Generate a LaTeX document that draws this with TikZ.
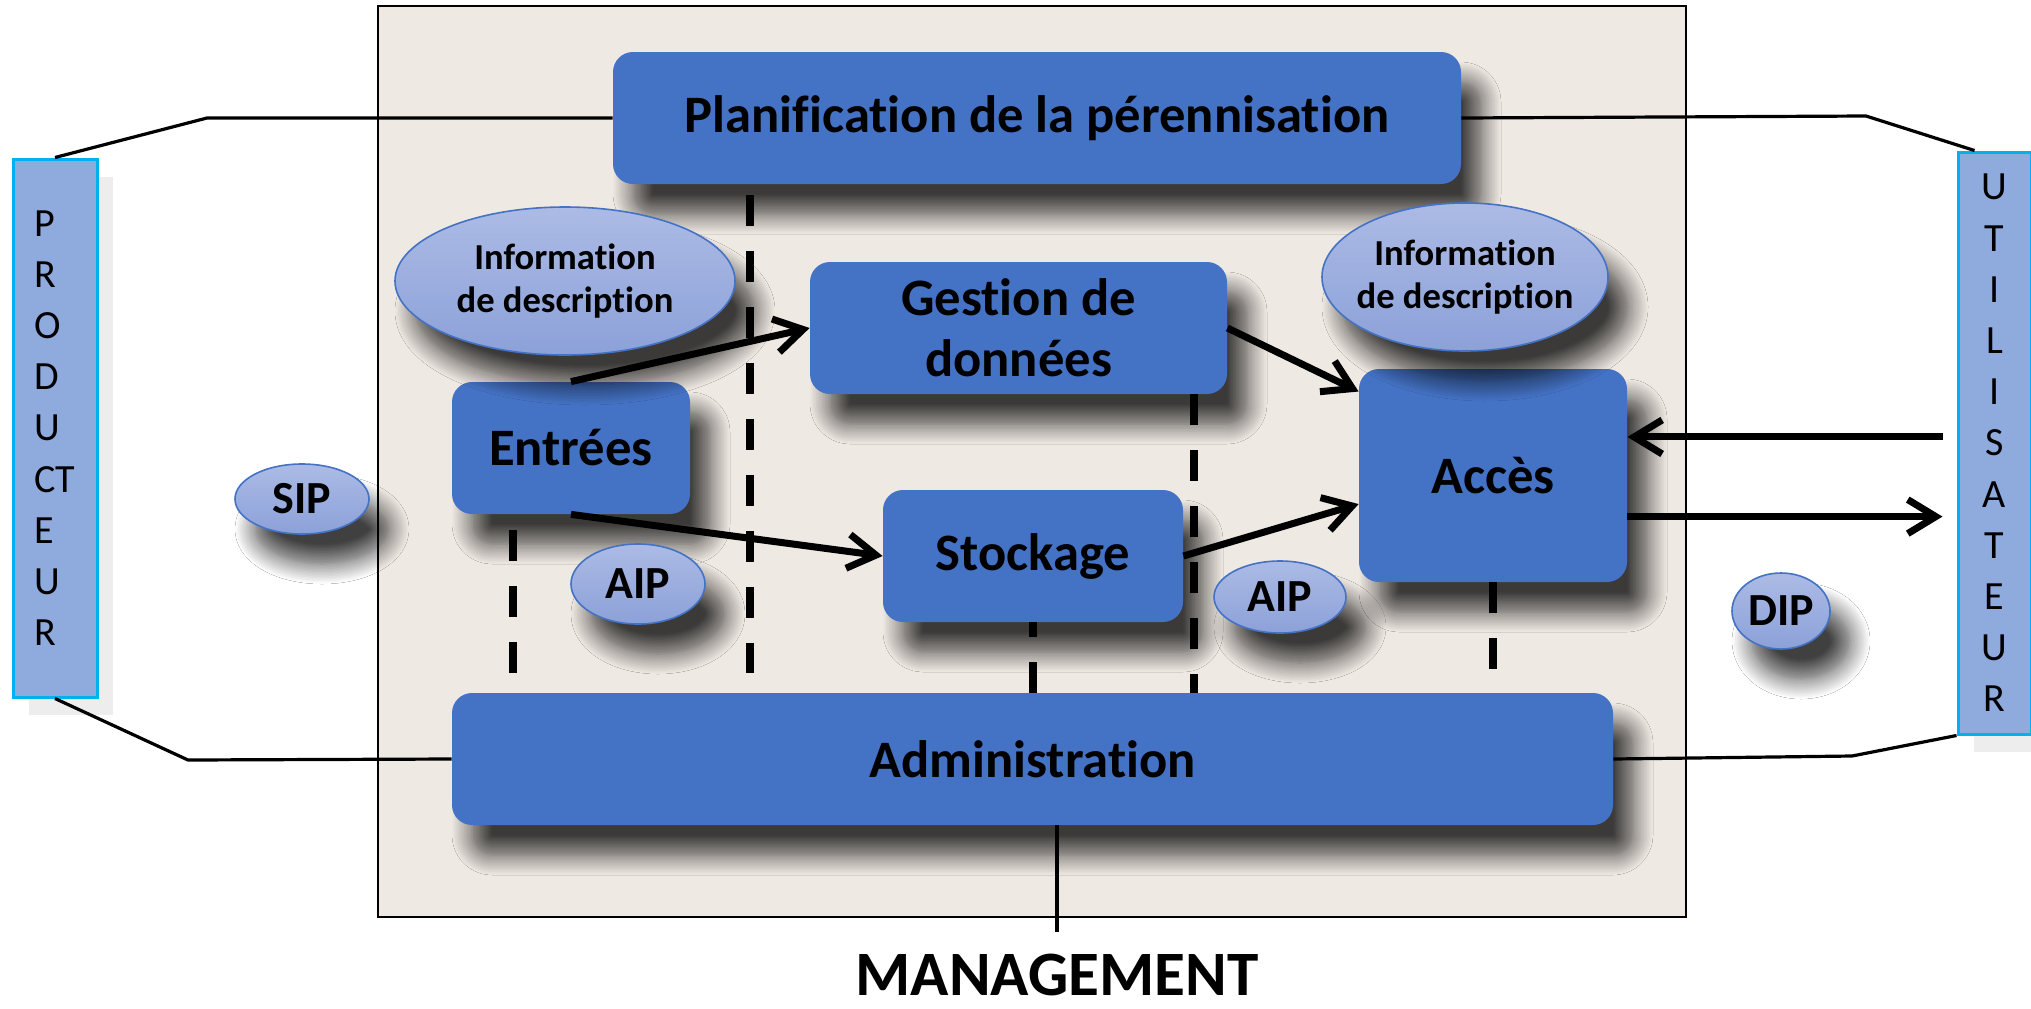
\documentclass[tikz,border=0pt]{standalone}
\usepackage{fontspec}
\setmainfont{Carlito}[Ligatures=NoCommon]
\usetikzlibrary{shapes.geometric,shadows,shadows.blur,arrows.meta}

\definecolor{oaisbleu}{HTML}{4472C4}
\definecolor{ovalhaut}{RGB}{172,187,229}
\definecolor{ovalbas}{RGB}{140,161,217}
\definecolor{acteurfond}{HTML}{8FAADC}
\definecolor{acteurbord}{HTML}{00B0F0}
\definecolor{papier}{RGB}{239,233,227}

\tikzset{
    ombre/.style={blur shadow={shadow xshift=10pt, shadow yshift=-15pt,
        shadow blur radius=10pt, shadow blur steps=14, shadow opacity=75}},
    bloc/.style={fill=oaisbleu, rounded corners=10pt, inner sep=0pt, align=center,
        font=\bfseries\fontsize{26.3}{30.5}\selectfont, ombre},
    paquet/.style={ellipse, draw=oaisbleu, line width=.8pt, top color=ovalhaut,
        bottom color=ovalbas, inner sep=0pt, font=\bfseries\fontsize{23}{27}\selectfont, ombre},
    infodesc/.style={paquet, inner sep=-5pt, align=center,
        font=\bfseries\fontsize{18.3}{21.5}\selectfont},
    acteur/.style={draw=acteurbord, line width=1.5pt, fill=acteurfond, inner sep=0pt,
        font=\fontsize{20}{25.6}\selectfont,
        drop shadow={shadow xshift=8pt, shadow yshift=-9pt, fill=black!7, opacity=1}},
    fleche/.style={line width=3.5pt, -{Straight Barb[length=14pt,width=17pt]}},
    tiret/.style={line width=3.6pt, dash pattern=on 15.5pt off 12.5pt},
    lien/.style={line width=1.6pt},
}

\begin{document}
\begin{tikzpicture}[x=0.5pt,y=-0.5pt]
    \fill[white] (0,0) rectangle (2031,1008);
    \useasboundingbox (0,0) rectangle (2031,1008);

    % cadre de l'archive
    \draw[line width=1.4pt, fill=papier] (378,6) rectangle (1686,917);

    % acteurs
    \node[acteur, minimum width=42pt, minimum height=269pt, align=left] (prod) at (55,428)
        {P\\R\\O\\D\\U\\CT\\E\\U\\R};
    \node[acteur, minimum width=36.5pt, minimum height=291pt, align=center] (util) at (1994.5,443)
        {U\\T\\I\\L\\I\\S\\A\\T\\E\\U\\R};

    % entites fonctionnelles
    \node[bloc, minimum width=424pt, minimum height=66pt] (plan) at (1037,118)
        {Planification de la pérennisation};
    \node[bloc, minimum width=208.5pt, minimum height=66pt] (gest) at (1018.5,328)
        {Gestion de\\données};
    \node[bloc, minimum width=119pt, minimum height=66pt] (entr) at (571,448) {Entrées};
    \node[bloc, minimum width=150pt, minimum height=66pt] (stock) at (1033,556) {Stockage};
    \node[bloc, minimum width=134pt, minimum height=106.5pt] (acces) at (1493,475.5) {Accès};
    \node[bloc, minimum width=580.5pt, minimum height=66pt] (admin) at (1032.5,759) {Administration};

    % paquets
    \node[infodesc, minimum width=170pt, minimum height=74pt] (descg) at (565,281)
        {Information\\de description};
    \node[infodesc, minimum width=143pt, minimum height=74pt] (descd) at (1465,277)
        {Information\\de description};
    \node[paquet, minimum width=67pt, minimum height=35pt] (sip) at (302,499) {SIP};
    \node[paquet, minimum width=67pt, minimum height=40pt] (aipg) at (638,584) {AIP};
    \node[paquet, minimum width=66pt, minimum height=36pt] (aipd) at (1280,597) {AIP};
    \node[paquet, minimum width=49pt, minimum height=38pt] (dip) at (1781,611) {DIP};

    \node[inner sep=0pt, font=\bfseries\fontsize{31.6}{36}\selectfont] (mgmt) at (1057,975) {MANAGEMENT};

    % liens vers les acteurs
    \draw[lien] (prod.north) -- (207,118) -- (plan.west);
    \draw[lien] (plan.east) -- (1866,116) -- ([xshift=-10pt]util.north);
    \draw[lien] (prod.south) -- (188,760) -- (admin.west);
    \draw[lien] (admin.east) -- (1852,756) -- (util.south west);
    \draw[line width=2pt] (admin.south -| mgmt.north) -- ([yshift=11pt]mgmt.north);

    % separations
    \coordinate (c1) at (513,0);
    \coordinate (c2) at (750,0);
    \coordinate (c4) at (1194,0);
    \draw[tiret, shorten <=8pt, shorten >=10pt] (c1 |- entr.south) -- (c1 |- admin.north);
    \draw[tiret, shorten <=5.5pt, shorten >=10pt] (c2 |- plan.south) -- (c2 |- admin.north);
    \draw[tiret, dash phase=8pt] (stock.south) -- (stock.south |- admin.north);
    \draw[tiret] (c4 |- gest.south) -- (c4 |- admin.north);
    \draw[tiret, shorten >=11.5pt] (acces.south) -- (acces.south |- admin.north);

    % flux
    \draw[fleche] (entr.north) -- (gest.west);
    \draw[fleche] (entr.south) -- (stock.west);
    \draw[fleche] (gest.east) -- (acces.148);
    \draw[fleche] (stock.east) -- (acces.192);
    \draw[fleche, shorten <=7pt] (util.west |- acces.16) -- (acces.16);
    \draw[fleche, shorten >=7pt] (acces.-17) -- (acces.-17 -| util.west);
\end{tikzpicture}
\end{document}
